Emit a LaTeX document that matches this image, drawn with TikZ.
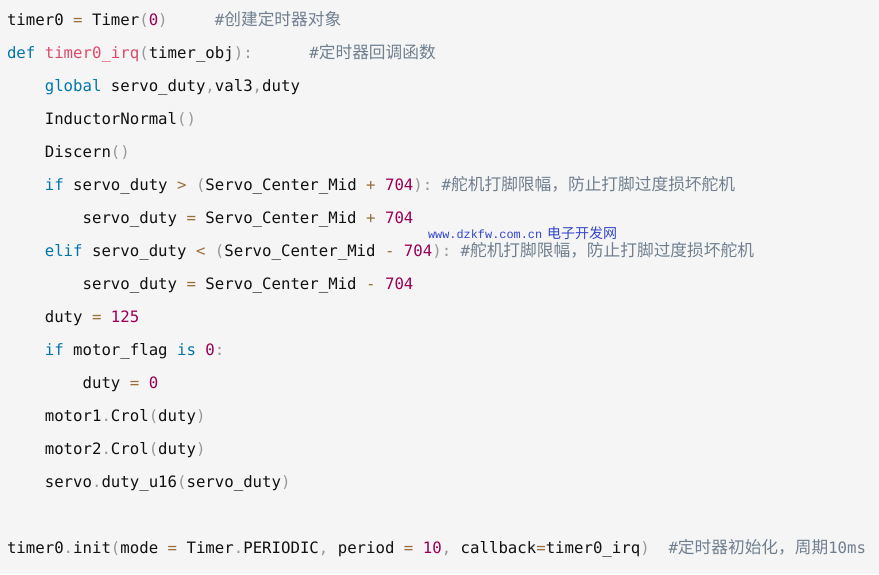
\documentclass[tikz,border=0pt]{standalone}
\usepackage{fontspec}
\setmonofont{DejaVu Sans Mono}
\newfontfamily\cjkfont{Noto Sans CJK SC}
\newfontfamily\wmmono{Liberation Mono}
\definecolor{bgc}{HTML}{F5F5F5}
\definecolor{kwc}{HTML}{0077AA}
\definecolor{fnc}{HTML}{DD4A68}
\definecolor{numc}{HTML}{990055}
\definecolor{opc}{HTML}{9A6E3A}
\definecolor{punc}{HTML}{999999}
\definecolor{comc}{HTML}{708090}
\definecolor{txtc}{HTML}{111111}
\definecolor{wmc}{HTML}{3344CC}
\newcommand{\ckw}[1]{\textcolor{kwc}{#1}}
\newcommand{\cfn}[1]{\textcolor{fnc}{#1}}
\newcommand{\cnum}[1]{\textcolor{numc}{#1}}
\newcommand{\cop}[1]{\textcolor{opc}{#1}}
\newcommand{\cpun}[1]{\textcolor{punc}{#1}}
\newcommand{\zh}[1]{{\cjkfont\fontsize{16.7}{17}\selectfont #1}}
\begin{document}
\begin{tikzpicture}[x=1pt,y=1pt,
  codeline/.style={anchor=base west,inner sep=0pt,outer sep=0pt,text=txtc,
    font=\ttfamily\fontsize{15.7}{16}\selectfont},
  comline/.style={codeline,text=comc},
  wmark/.style={anchor=base west,inner sep=0pt,outer sep=0pt,text=wmc}]
\useasboundingbox (0,0) rectangle (879,-574);
\fill[bgc] (0,0) rectangle (879,-574);
\def\cw{9.45}
% code lines
\node[codeline] (l1) at (7,-25) {timer0 \cop{=} Timer\cpun{(}\cnum{0}\cpun{)}};
\node[comline] (c1) at ({7+22*\cw},-25) {\#\zh{创建定时器对象}};
\node[codeline] (l2) at (7,-58) {\ckw{def} \cfn{timer0\_irq}\cpun{(}timer\_obj\cpun{):}};
\node[comline] (c2) at ({7+32*\cw},-58) {\#\zh{定时器回调函数}};
\node[codeline] (l3) at ({7+4*\cw},-91) {\ckw{global} servo\_duty\cpun{,}val3\cpun{,}duty};
\node[codeline] (l4) at ({7+4*\cw},-124) {InductorNormal\cpun{()}};
\node[codeline] (l5) at ({7+4*\cw},-157) {Discern\cpun{()}};
\node[codeline] (l6) at ({7+4*\cw},-190) {\ckw{if} servo\_duty \cop{>} \cpun{(}Servo\_Center\_Mid \cop{+} \cnum{704}\cpun{):}};
\node[comline] (c6) at ({7+46*\cw},-190) {\#\zh{舵机打脚限幅，防止打脚过度损坏舵机}};
\node[codeline] (l7) at ({7+8*\cw},-223) {servo\_duty \cop{=} Servo\_Center\_Mid \cop{+} \cnum{704}};
\node[codeline] (l8) at ({7+4*\cw},-256) {\ckw{elif} servo\_duty \cop{<} \cpun{(}Servo\_Center\_Mid \cop{-} \cnum{704}\cpun{):}};
\node[comline] (c8) at ({7+48*\cw},-256) {\#\zh{舵机打脚限幅，防止打脚过度损坏舵机}};
\node[codeline] (l9) at ({7+8*\cw},-289) {servo\_duty \cop{=} Servo\_Center\_Mid \cop{-} \cnum{704}};
\node[codeline] (l10) at ({7+4*\cw},-322) {duty \cop{=} \cnum{125}};
\node[codeline] (l11) at ({7+4*\cw},-355) {\ckw{if} motor\_flag \ckw{is} \cnum{0}\cpun{:}};
\node[codeline] (l12) at ({7+8*\cw},-388) {duty \cop{=} \cnum{0}};
\node[codeline] (l13) at ({7+4*\cw},-421) {motor1\cpun{.}Crol\cpun{(}duty\cpun{)}};
\node[codeline] (l14) at ({7+4*\cw},-454) {motor2\cpun{.}Crol\cpun{(}duty\cpun{)}};
\node[codeline] (l15) at ({7+4*\cw},-487) {servo\cpun{.}duty\_u16\cpun{(}servo\_duty\cpun{)}};
\node[codeline] (l17) at (7,-553) {timer0\cpun{.}init\cpun{(}mode \cop{=} Timer\cpun{.}PERIODIC\cpun{,} period \cop{=} \cnum{10}\cpun{,} callback\cop{=}timer0\_irq\cpun{)}};
\node[comline] (c17) at ({7+70*\cw},-553) {\#\zh{定时器初始化，周期}10ms};
% watermark
\node[wmark] (wm1) at (428,-238) {\wmmono\fontsize{11.9}{12}\selectfont www.dzkfw.com.cn};
\node[wmark] (wm2) at (547,-238) {\cjkfont\fontsize{14}{14}\selectfont 电子开发网};
\end{tikzpicture}
\end{document}
